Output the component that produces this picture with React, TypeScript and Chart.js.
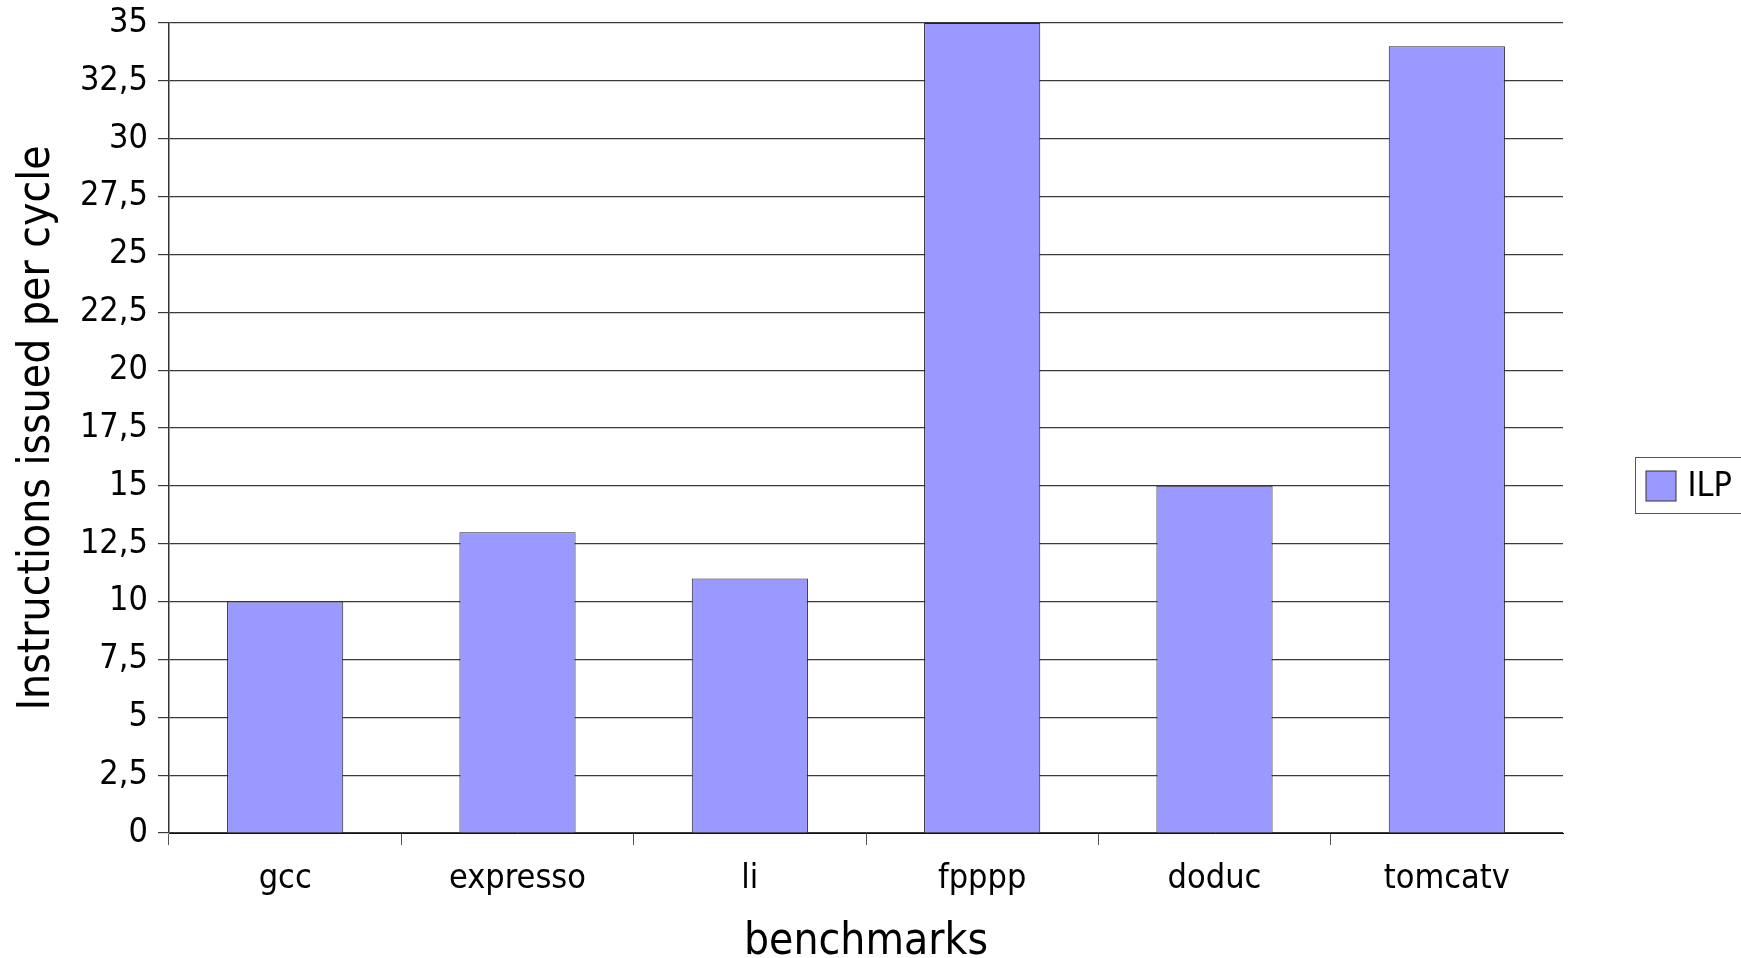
import { useEffect, useRef } from "react";
import { Chart, registerables } from "chart.js";

Chart.register(...registerables);

// Benchmarks and measured issue rate (instructions issued per cycle)
const benchmarks = ["gcc", "expresso", "li", "fpppp", "doduc", "tomcatv"];
const ilpValues = [10, 13, 11, 35, 15, 34];
const yTickLabels = [
  "0", "2,5", "5", "7,5", "10", "12,5", "15", "17,5",
  "20", "22,5", "25", "27,5", "30", "32,5", "35",
];
const seriesLabel = "ILP";
const xTitle = "benchmarks";
const yTitle = "Instructions issued per cycle";

const FONT = "'DejaVu Sans Condensed', 'DejaVu Sans', sans-serif";
const BAR_FILL = "#9999ff";

// Boxed legend on the right-hand side, built from the first dataset
const boxedLegend = {
  id: "boxedLegend",
  afterDraw(chart: any) {
    const ds = chart.data.datasets[0];
    const ctx = chart.ctx as CanvasRenderingContext2D;
    const area = chart.chartArea;
    const midY = (area.top + area.bottom) / 2 + 57;
    const boxX = area.right + 72.5;
    const boxH = 56;
    const boxTop = Math.round(midY - boxH / 2) + 0.5;
    ctx.save();
    ctx.strokeStyle = "#555";
    ctx.lineWidth = 1;
    ctx.strokeRect(boxX, boxTop, 140, boxH);
    ctx.fillStyle = ds.backgroundColor;
    ctx.fillRect(boxX + 10.5, boxTop + 13.5, 30, 30);
    ctx.strokeStyle = "#333";
    ctx.strokeRect(boxX + 10.5, boxTop + 13.5, 30, 30);
    ctx.fillStyle = "#000";
    ctx.font = `34px ${FONT}`;
    ctx.textBaseline = "middle";
    ctx.textAlign = "left";
    ctx.fillText(ds.label, boxX + 52, boxTop + 29.5);
    ctx.restore();
  },
};

export default function App() {
  const canvasRef = useRef<HTMLCanvasElement | null>(null);

  useEffect(() => {
    document.body.style.margin = "0";
    const canvas = canvasRef.current;
    if (!canvas) return;
    const chart = new Chart(canvas, {
      type: "bar",
      data: {
        labels: benchmarks,
        datasets: [
          {
            label: seriesLabel,
            data: ilpValues,
            backgroundColor: BAR_FILL,
            borderColor: "#222",
            borderWidth: 1,
            categoryPercentage: 0.5,
            barPercentage: 1,
          },
        ],
      },
      options: {
        responsive: false,
        animation: false,
        devicePixelRatio: 1,
        layout: { padding: { top: 23, right: 178, left: 0, bottom: 0 } },
        plugins: {
          legend: { display: false },
          tooltip: { enabled: false },
        },
        scales: {
          x: {
            offset: true,
            afterFit(scale: any) {
              scale.height = 125;
              scale.paddingLeft = 0;
              scale.paddingRight = 0;
            },
            grid: {
              display: true,
              offset: true,
              drawOnChartArea: false,
              drawTicks: true,
              tickLength: 12,
              // no tick mark at the far right end of the category axis
              color: (c: any) => (c.tick ? "#555" : "rgba(0,0,0,0)"),
              lineWidth: 1,
            },
            border: { display: true, color: "#111", width: 1 },
            ticks: {
              color: "#000",
              padding: 14,
              maxRotation: 0,
              autoSkip: false,
              font: { family: FONT, size: 34 },
            },
            title: {
              display: true,
              text: xTitle,
              color: "#000",
              padding: { top: 0, bottom: 0 },
              font: { family: FONT, size: 44, lineHeight: 0.7 },
            },
          },
          y: {
            min: 0,
            max: 35,
            afterFit(scale: any) {
              scale.width = 169;
              scale.paddingTop = 0;
              scale.paddingBottom = 0;
            },
            ticks: {
              stepSize: 2.5,
              color: "#000",
              padding: 10,
              font: { family: FONT, size: 34 },
              callback: (_v: any, i: number) => yTickLabels[i],
            },
            grid: {
              color: "#3a3a3a",
              lineWidth: 1.2,
              drawTicks: true,
              tickLength: 11,
            },
            border: { display: true, color: "#333", width: 1.5 },
            title: {
              display: true,
              text: yTitle,
              color: "#000",
              padding: { top: 20, bottom: 0 },
              font: { family: FONT, size: 44, lineHeight: 0.8 },
            },
          },
        },
      },
      plugins: [boxedLegend],
    });
    return () => chart.destroy();
  }, []);

  return (
    <div style={{ width: 1741, height: 958, background: "#fff" }}>
      <canvas ref={canvasRef} width={1741} height={958} />
    </div>
  );
}
